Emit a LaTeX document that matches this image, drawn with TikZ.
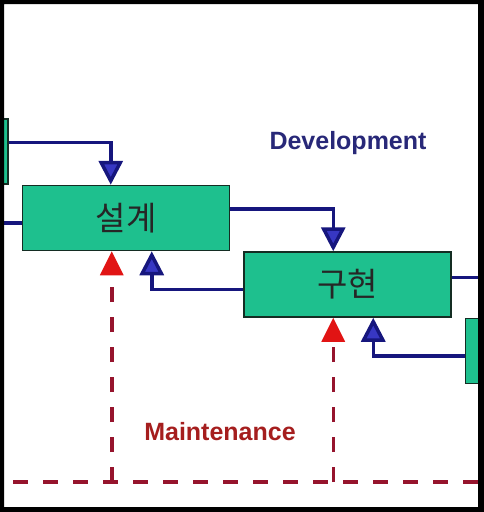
\documentclass[tikz,border=0pt]{standalone}
\usepackage{fontspec}
\newfontfamily\krfont{Noto Sans CJK KR}
\newfontfamily\labfont{Liberation Sans}
\usepackage{tikz}
\usetikzlibrary{positioning, arrows.meta}
\definecolor{phasegreen}{RGB}{30,192,142}
\definecolor{phaseline}{RGB}{20,45,35}
\definecolor{devblue}{RGB}{22,22,125}
\definecolor{tipblue}{RGB}{55,55,195}
\definecolor{mntred}{RGB}{150,20,45}
\definecolor{tipred}{RGB}{225,20,20}
\definecolor{devtext}{RGB}{40,40,120}
\definecolor{mnttext}{RGB}{165,30,30}

\begin{document}
\begin{tikzpicture}[x=1pt, y=-1pt,
        phase/.style={draw=phaseline, line width=1.5pt, fill=phasegreen, minimum width=207pt, minimum height=65pt, inner sep=0pt, text=black!85, font=\krfont\fontsize{33}{33}\selectfont},
        flow/.style={devblue, line width=3.5pt, -{Triangle[length=24pt, width=24pt, fill=tipblue]}},
        maint/.style={mntred, line width=3.5pt, dash pattern=on 15pt off 15pt},
        upred/.style={mntred, line width=3.5pt, dash pattern=on 15pt off 15pt, -{Triangle[length=24pt, width=23pt, color=tipred]}},
        label/.style={font=\labfont\bfseries\fontsize{25}{25}\selectfont}]
        \useasboundingbox (0,0) rectangle (484,512);
        \begin{scope}
        \clip (4,4) rectangle (478,507);
        \node (design) [phase] at (126,218) {설계};
        \node (impl) [phase, below right=0pt and 13pt of design] {구현};
        \node (prev) [phase, above left=0pt and 13pt of design] {};
        \node (next) [phase, below right=0pt and 13pt of impl] {};

        % forward
        \draw[flow] ([yshift=9pt]prev.east) -| ([xshift=89pt]design.north west);
        \draw[flow] ([yshift=9pt]design.east) -| ([xshift=90pt]impl.north west);
        \draw[flow] ([yshift=7pt]impl.east) -| ([xshift=90pt]next.north west);
        % back
        \draw[flow] ([yshift=-5pt]design.west) -| ([xshift=130pt]prev.south west);
        \draw[flow] ([yshift=-5pt]impl.west) -| ([xshift=130pt]design.south west);
        \draw[flow] ([yshift=-5pt]next.west) -| ([xshift=130pt]impl.south west);

        % maintenance
        \coordinate (mstart) at (13,482);
        \coordinate (mend) at (484,482);
        \draw[maint] (mstart) -- (mend);
        \draw[upred] ([xshift=90pt]design.south west |- mstart) -- ([xshift=90pt]design.south west);
        \draw[upred] ([xshift=90pt]impl.south west |- mstart) -- ([xshift=90pt]impl.south west);

        \node (dev) [label, text=devtext] at (348,143) {Development};
        \node (mnt) [label, text=mnttext] at (220,432) {Maintenance};
        \end{scope}
        \fill[black, even odd rule] (0,0) rectangle (484,512) (4,4) rectangle (478,507);
    \end{tikzpicture}
\end{document}
